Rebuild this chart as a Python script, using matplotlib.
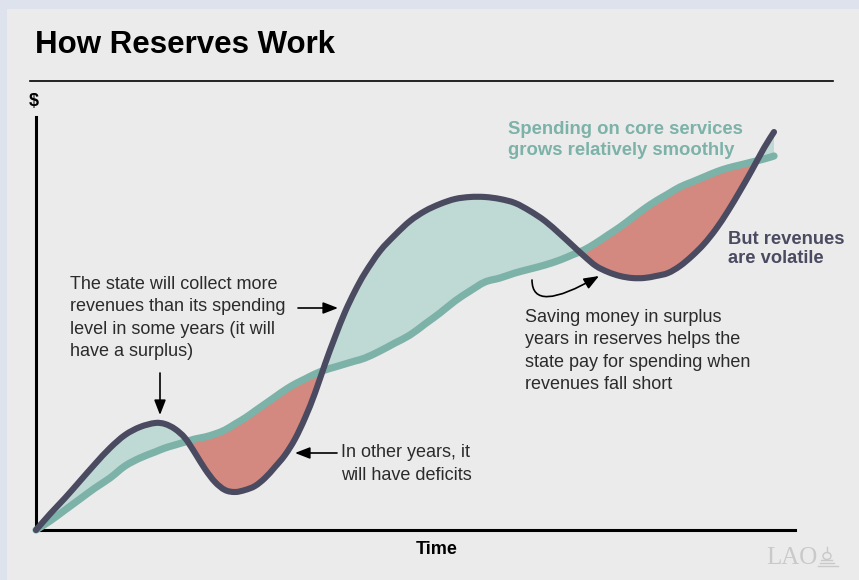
import numpy as np
import matplotlib
matplotlib.use("Agg")
import matplotlib.pyplot as plt
from matplotlib.patches import Rectangle, PathPatch, Ellipse
from matplotlib.path import Path

# time along the x axis (arbitrary units) and dollars (arbitrary units)
time = [0, 14, 29, 44, 59, 74, 89, 104, 119, 129, 139, 149, 159, 169, 179, 189,
        199, 209, 219, 229, 239, 249, 259, 269, 279, 289, 299, 309, 319, 329,
        344, 359, 374, 389, 404, 419, 434, 449, 464, 479, 494, 509, 524, 536,
        548, 560, 572, 584, 596, 608, 620, 632, 644, 656, 668, 680, 692, 704,
        716, 728, 738]
revenues = [0, 16, 32, 49, 66, 82, 95, 103, 107, 106, 101, 92, 77, 61, 48, 40,
            38, 40, 44, 52, 63, 75, 91, 112, 137, 166, 193, 218, 239, 257,
            279, 295, 309, 319, 326, 331, 333, 333, 331, 327, 319, 309, 296, 285,
            274, 264, 258, 254, 252, 252, 254, 257, 264, 274, 286, 301, 319, 339,
            360, 382, 398]
spending = [0, 9, 20, 31, 42, 52, 64, 72, 78, 82, 85, 88, 91, 93, 96, 100,
            106, 112, 119, 126, 133, 140, 146, 151, 156, 160, 163, 166, 169, 172,
            179, 187, 195, 206, 217, 229, 239, 248, 252, 257, 261, 265, 270, 275,
            280, 287, 295, 303, 312, 321, 329, 336, 343, 348, 353, 358, 362, 365,
            368, 371, 374]

W, H = 859, 580
BG = "#ebebeb"
BORDER = "#dde2ec"
TEAL = "#7cb2a8"
TEAL_FILL = "#bfd9d4"
RED_FILL = "#d3897f"
SLATE = "#4a4a61"
TXT = "#2b2b2b"
LOGO = "#c9c9c9"
FONT = "Liberation Sans"


def px(x, y):
    # pixel position (top-left origin) -> figure fraction
    return x / W, 1 - y / H


def smooth_path(x, y):
    # Catmull-Rom through the points, written as cubic Bezier segments
    p = np.column_stack([x, y]).astype(float)
    ext = np.vstack([p[0], p, p[-1]])
    verts = [p[0]]
    codes = [Path.MOVETO]
    for i in range(1, len(ext) - 2):
        c1 = ext[i] + (ext[i + 1] - ext[i - 1]) / 6
        c2 = ext[i + 1] - (ext[i + 2] - ext[i]) / 6
        verts += [c1, c2, ext[i + 1]]
        codes += [Path.CURVE4] * 3
    return Path(verts, codes)


fig = plt.figure(figsize=(W / 100, H / 100), dpi=100)
fig.patch.set_facecolor(BORDER)
fig.add_artist(Rectangle((7 / W, 0), 1, 1 - 9 / H, transform=fig.transFigure,
                         facecolor=BG, edgecolor="none", zorder=0))

fig.text(*px(35, 45), "How Reserves Work", fontsize=22.5, fontweight="bold",
         family=FONT, color="black", va="center", ha="left")
fig.add_artist(plt.Line2D([30 / W, 833 / W], [1 - 81 / H] * 2,
                          transform=fig.transFigure, color="black", lw=1.2))
fig.text(*px(29, 101), "$", fontsize=13, fontweight="bold", family=FONT,
         va="center", ha="left")
fig.text(*px(437, 549), "Time", fontsize=13, fontweight="bold", family=FONT,
         va="center", ha="center")

# logo: LAO wordmark with a small dome
fig.text(*px(766, 558), "LAO", fontsize=18, family="Liberation Serif",
         color=LOGO, va="center", ha="left")
for y, xa, xb in [(566, 818, 838), (563, 820, 834), (560, 821, 832)]:
    fig.add_artist(plt.Line2D([xa / W, xb / W], [1 - y / H] * 2,
                              transform=fig.transFigure, color=LOGO, lw=1))
fig.add_artist(Ellipse(px(827, 556), 8 / W, 7 / H, transform=fig.transFigure,
                       facecolor="none", edgecolor=LOGO, lw=1))
fig.add_artist(plt.Line2D([827 / W, 827 / W], [1 - 552 / H, 1 - 547 / H],
                          transform=fig.transFigure, color=LOGO, lw=1))

x0, y0 = px(36, 530)
x1, y1 = px(795, 117)
ax = fig.add_axes([x0, y0, x1 - x0, y1 - y0])
ax.set_facecolor("none")
ax.set_xlim(0, 759)
ax.set_ylim(0, 413)
for s in ["top", "right"]:
    ax.spines[s].set_visible(False)
for s in ["left", "bottom"]:
    ax.spines[s].set_linewidth(2.2)
    ax.spines[s].set_color("black")
ax.set_xticks([])
ax.set_yticks([])

t = np.array(time)
rev = np.array(revenues)
sp = np.array(spending)
ax.fill_between(t, rev, sp, where=rev >= sp, interpolate=True,
                color=TEAL_FILL, lw=0, zorder=2)
ax.fill_between(t, rev, sp, where=rev < sp, interpolate=True,
                color=RED_FILL, lw=0, zorder=2)
ax.add_patch(PathPatch(smooth_path(t, sp), facecolor="none", edgecolor=TEAL,
                       lw=5.2, capstyle="round", joinstyle="round", zorder=3,
                       clip_on=False))
ax.add_patch(PathPatch(smooth_path(t, rev), facecolor="none", edgecolor=SLATE,
                       lw=4.4, capstyle="round", joinstyle="round", zorder=4,
                       clip_on=False))

# annotations
txt = dict(fontsize=13, family=FONT, color=TXT, va="center", ha="left",
           linespacing=1.42)
fig.text(*px(70, 318), "The state will collect more\nrevenues than its spending\n"
         "level in some years (it will\nhave a surplus)", **txt)
fig.text(*px(341, 464), "In other years, it\nwill have deficits", **txt)
fig.text(*px(525, 351), "Saving money in surplus\nyears in reserves helps the\n"
         "state pay for spending when\nrevenues fall short", **txt)
fig.text(*px(508, 140), "Spending on core services\ngrows relatively smoothly",
         fontsize=13.3, fontweight="bold", family=FONT, color=TEAL,
         va="center", ha="left", linespacing=1.33)
fig.text(*px(728, 249), "But revenues\nare volatile", fontsize=13.2,
         fontweight="bold", family=FONT, color=SLATE, va="center", ha="left",
         linespacing=1.2)

arrow = dict(arrowstyle="-|>,head_length=0.9,head_width=0.35", color="black",
             lw=1.2, shrinkA=0, shrinkB=0)
ax.annotate("", xy=(302, 222), xytext=(262, 222), arrowprops=arrow)
ax.annotate("", xy=(124, 115), xytext=(124, 157), arrowprops=arrow)
ax.annotate("", xy=(259, 77), xytext=(301, 77), arrowprops=arrow)
ax.annotate("", xy=(563, 254), xytext=(496, 250),
            arrowprops=dict(arrow, connectionstyle="angle3,angleA=90,angleB=30"))

fig.savefig("out.png", dpi=100, facecolor=fig.get_facecolor())
